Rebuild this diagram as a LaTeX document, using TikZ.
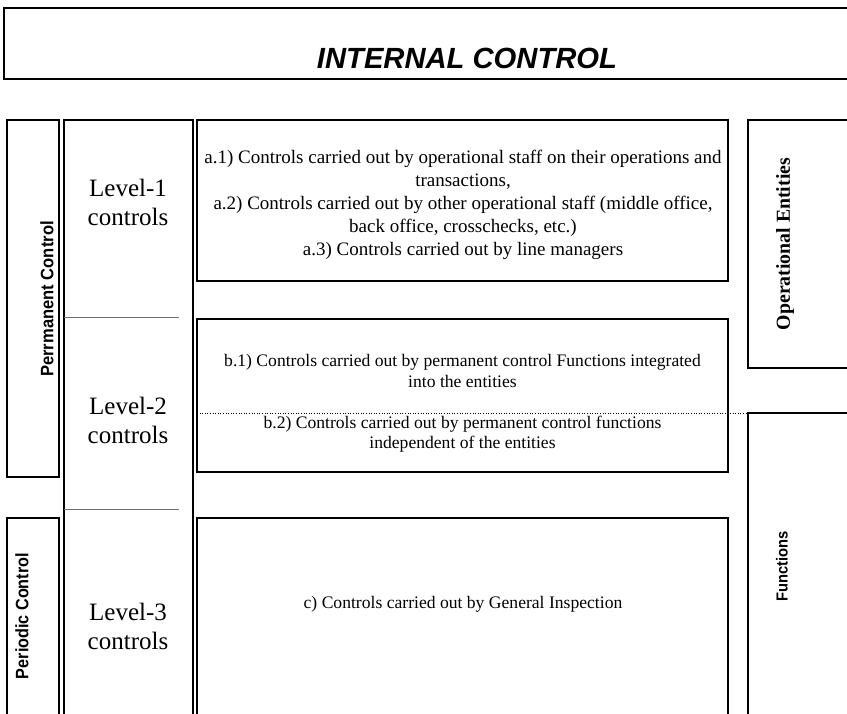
\documentclass[tikz,border=0pt]{standalone}
\usepackage{fontspec}
\usepackage{graphicx}
\setmainfont{Liberation Serif}
\setsansfont{Liberation Sans}
\begin{document}
\begin{tikzpicture}[x=1pt,y=-1pt,
  frame/.style={draw=black,line width=1.4pt},
  divider/.style={draw=black!55,line width=0.7pt},
  leveltext/.style={font=\fontsize{25}{29}\selectfont,align=center},
  boxtext/.style={font=\fontsize{17.6}{20.5}\selectfont,align=center},
  sidelabel/.style={font=\sffamily\bfseries\fontsize{18}{20}\selectfont,rotate=90},
  inner sep=0pt]
\useasboundingbox (0,0) rectangle (847,713);
\clip (0,0) rectangle (847,713);
% title
\draw[frame] (4,8) rectangle (870,79);
\node[font=\sffamily\bfseries\itshape\fontsize{29.2}{32}\selectfont] (title) at (467,58) {INTERNAL CONTROL};
% left columns
\draw[frame] (7,120) rectangle (59,477);
\node[sidelabel] (perm) at (47,299) {\scalebox{0.92}[1]{Perrmanent Control}};
\draw[frame] (7,518) rectangle (59,730);
\node[sidelabel] (peri) at (22,616) {\scalebox{0.90}[1]{Periodic Control}};
% level column
\draw[frame] (64,120) rectangle (193,730);
\draw[divider] (64,317) -- (179,317);
\draw[divider] (64,509) -- (179,509);
\node[leveltext] (l1) at (128,202) {Level-1\\controls};
\node[leveltext] (l2) at (128,420) {Level-2\\controls};
\node[leveltext] (l3) at (128,626) {Level-3\\controls};
% a box
\draw[frame] (197,120) rectangle (728,281);
\node[boxtext,font=\fontsize{19}{22.9}\selectfont] (atext) at (463,205) {a.1) Controls carried out by operational staff on their operations and\\transactions,\\a.2) Controls carried out by other operational staff (middle office,\\back office, crosschecks, etc.)\\a.3) Controls carried out by line managers};
% b box
\draw[frame] (197,319) rectangle (728,472);
\draw[black,line width=0.6pt,dotted] (197,413) -- (748,413);
\node[boxtext] (b1) at (462.5,371) {b.1) Controls carried out by permanent control Functions integrated\\into the entities};
\node[boxtext] (b2) at (462.5,434) {b.2) Controls carried out by permanent control functions\\independent of the entities};
% c box
\draw[frame] (197,518) rectangle (728,730);
\node[boxtext] (ctext) at (463,604) {c) Controls carried out by General Inspection};
% right column
\draw[frame] (748,120) rectangle (870,368);
\node[font=\bfseries\fontsize{19.8}{22}\selectfont,rotate=90] (oper) at (785,244) {Operational Entities};
\draw[frame] (748,413) rectangle (870,730);
\node[sidelabel,font=\sffamily\bfseries\fontsize{16}{18}\selectfont] (func) at (782,566) {\scalebox{0.92}[1]{Functions}};
\end{tikzpicture}
\end{document}
